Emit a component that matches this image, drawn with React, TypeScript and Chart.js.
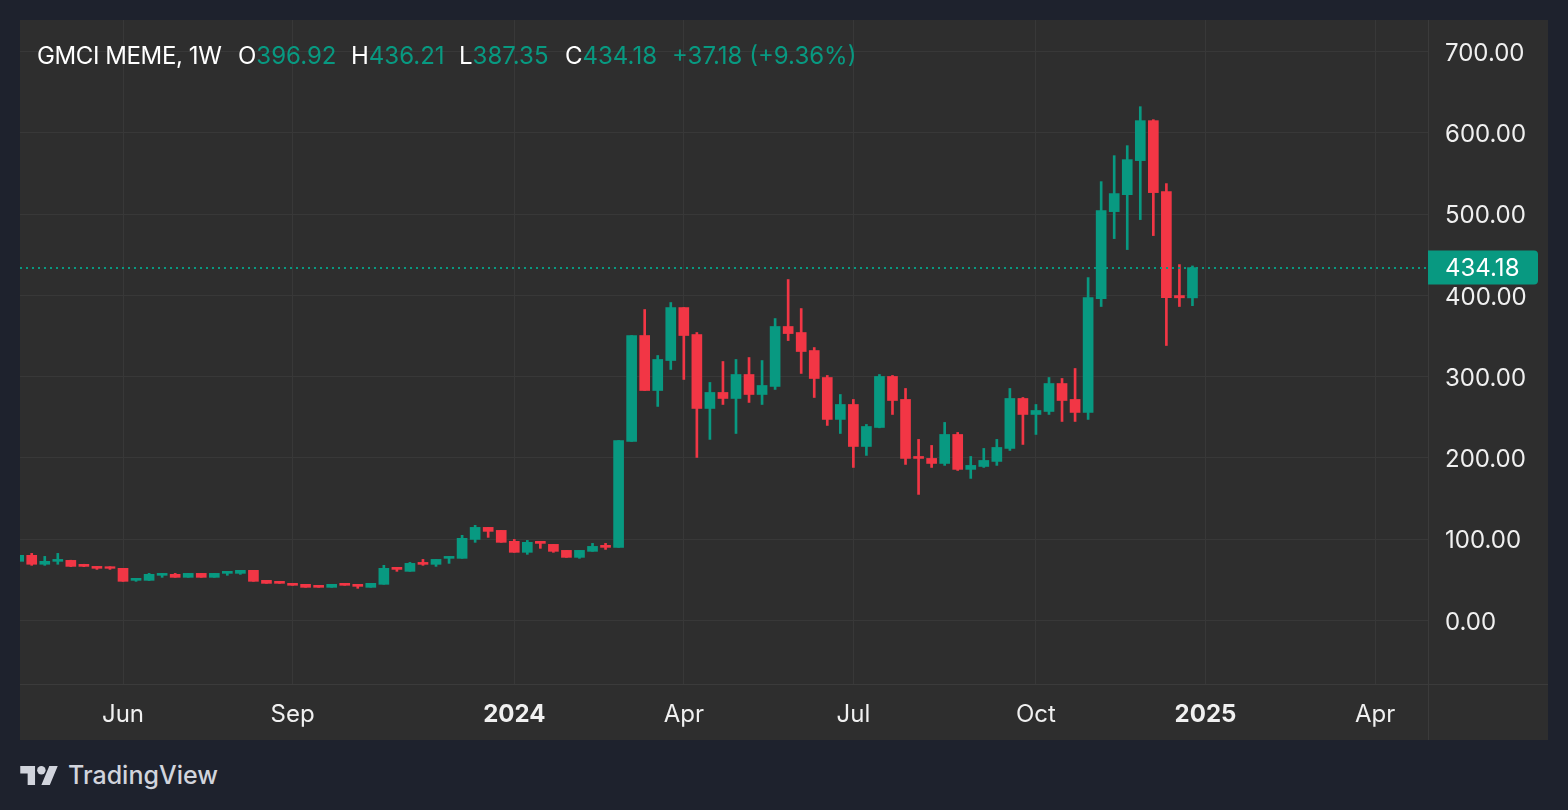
import React, { useEffect, useRef } from "react";
import { Chart, registerables } from "chart.js";

Chart.register(...registerables);

// Weekly candles, first candle = week of 2023-04-10
const opens = [
  72.6, 80, 69, 72.6, 73.8, 68.9, 66.4, 66, 64, 49.2,
  49.2, 55.4, 56.6, 52.9, 57.8, 52.9, 57.8, 57.8, 61.5, 49.2,
  48, 45.5, 44.3, 43.1, 40.6, 45.5, 44.3, 40.6, 44.3, 65.2,
  60.3, 71.3, 68.9, 76.3, 76.3, 99.6, 114.4, 110.7, 97.2, 83.7,
  97.2, 93.5, 86.1, 77.5, 84.9, 92.3, 89.8, 220.2, 350.6, 282.9,
  319.8, 385, 351.8, 260.8, 280.5, 273.1, 302.6, 278, 287.9, 361.7,
  354.3, 332.1, 298.9, 247.3, 265.7, 214, 237.4, 300.2, 271.9, 201.7,
  199.3, 193.1, 228.8, 185.8, 189.4, 195.6, 211.6, 273.1, 253.4, 257.1,
  291.5, 271.9, 255.9, 396.1, 503.1, 524, 565.9, 615.1, 527.7, 399.8,
  396.92,
];
const highs = [
  81, 82.4, 78.7, 82.4, 74, 69, 66.4, 66, 64, 51.7,
  57.8, 57.8, 57.8, 57.8, 57.8, 57.8, 60.3, 61.5, 61.5, 49.2,
  48, 45.5, 44.3, 43.1, 44.3, 45.5, 44.3, 45.5, 67.7, 65.2,
  71.3, 75, 75, 78.7, 104.6, 116.9, 114.4, 110.7, 99.6, 98.4,
  97.2, 93.5, 86.1, 86.1, 94.7, 94.7, 221.4, 350.6, 382.6, 326,
  391.2, 385, 354.3, 292.8, 318.6, 321.1, 323.5, 319.8, 371.5, 419.5,
  383.8, 335.8, 301.4, 278, 271.9, 241.1, 302.6, 301.4, 285.4, 222.7,
  215.3, 243.6, 231.3, 201.7, 211.6, 222.7, 285.4, 274.3, 265.7, 298.9,
  297.7, 310, 421.9, 540, 572, 584.3, 632.3, 616.3, 537.6, 437.9,
  436.21,
];
const lows = [
  71, 67.7, 67.7, 69, 66, 66, 62.7, 62.7, 48, 48,
  49, 52.9, 52.9, 52.9, 52.9, 52.9, 55.4, 56.6, 48, 45.5,
  45.5, 43.1, 40.6, 40.6, 40.6, 43.1, 39.4, 40.6, 44.3, 60.3,
  60.3, 67.7, 66.4, 70.1, 76.3, 96, 102.1, 96, 83.7, 81.2,
  88.6, 83.7, 77.5, 76.3, 84.9, 87.3, 89.8, 220.2, 282.9, 263.3,
  308.8, 296.5, 200.5, 222.7, 265.7, 230, 268.2, 265.7, 284.2, 344.4,
  303.9, 274.3, 239.9, 230, 188.2, 203, 237, 253.4, 191.9, 155,
  188.2, 190.7, 184.5, 174.7, 188.2, 190.7, 209.1, 216.5, 228.8, 253.4,
  244.8, 244.8, 247.3, 386.3, 469.9, 456.4, 493.3, 473.6, 338.3, 386.3,
  387.35,
];
const closes = [
  80, 69, 72.6, 75, 66.4, 66.4, 64, 64, 48, 51.7,
  56.6, 57.8, 52.9, 57.8, 52.9, 57.8, 60.3, 61.5, 48, 45.5,
  45.5, 43.1, 40.6, 40.6, 44.3, 43.1, 41.8, 45.5, 64, 62.7,
  70.1, 68.9, 75, 78.7, 100.9, 114.4, 109.5, 96, 83.7, 96,
  94.7, 84.9, 77.5, 86.1, 91, 89.8, 221.4, 350.6, 282.9, 321.1,
  385, 350.6, 260.8, 280.5, 273.1, 302.6, 278, 289.1, 361.7, 353,
  330.9, 297.7, 247.3, 265.7, 214, 238.6, 300.2, 270.6, 199.3, 199.3,
  193.1, 228.8, 185.8, 190.7, 196.8, 212.8, 273.1, 253.4, 258.3, 291.5,
  270.6, 255.9, 397.3, 504.4, 525.3, 567.1, 615.1, 526.5, 397.3, 397.0,
  434.18,
];

// Time axis: candle index of the first week of each labelled period
const tickIndices = [8, 21, 38, 51, 64, 78, 91, 104];
const tickLabels = ["Jun", "Sep", "2024", "Apr", "Jul", "Oct", "2025", "Apr"];
const yearLabels = ["2024", "2025"];
const priceTicks = [0, 100, 200, 300, 400, 500, 600, 700];

const symbolLabel = "GMCI MEME, 1W";
const openLabel = "396.92";
const highLabel = "436.21";
const lowLabel = "387.35";
const closeLabel = "434.18";
const changeLabel = "+37.18 (+9.36%)";
const lastPrice = 434.18;

const UP = "#089981";
const DOWN = "#f23645";
const GRID = "#383838";
const SEP = "#3b3b3b";
const TEXT = "#f0f0f0";
const FONT = "Inter, 'Noto Sans', sans-serif";

export default function App() {
  const canvasRef = useRef<HTMLCanvasElement | null>(null);

  useEffect(() => {
    const canvas = canvasRef.current;
    if (!canvas) return;
    const colors = opens.map((o, i) => (closes[i] >= o ? UP : DOWN));

    const overlay = {
      id: "tvOverlay",
      afterDatasetsDraw(chart: any) {
        const { ctx, chartArea, scales } = chart;
        const y = Math.round(scales.y.getPixelForValue(lastPrice));
        ctx.save();
        ctx.strokeStyle = UP;
        ctx.lineWidth = 2;
        ctx.setLineDash([2, 4]);
        ctx.beginPath();
        ctx.moveTo(chartArea.left, y);
        ctx.lineTo(chartArea.right, y);
        ctx.stroke();
        ctx.restore();
      },
      afterDraw(chart: any) {
        const { ctx, chartArea, scales, width, height } = chart;
        ctx.save();
        ctx.strokeStyle = SEP;
        ctx.lineWidth = 1;
        ctx.beginPath();
        ctx.moveTo(chartArea.right + 0.5, 0);
        ctx.lineTo(chartArea.right + 0.5, height);
        ctx.moveTo(0, chartArea.bottom + 0.5);
        ctx.lineTo(width, chartArea.bottom + 0.5);
        ctx.stroke();

        // last price label
        const y = scales.y.getPixelForValue(lastPrice);
        const x0 = chartArea.right;
        const w = 110;
        const h = 34;
        const r = 4;
        ctx.fillStyle = UP;
        ctx.beginPath();
        ctx.moveTo(x0, y - h / 2);
        ctx.lineTo(x0 + w - r, y - h / 2);
        ctx.quadraticCurveTo(x0 + w, y - h / 2, x0 + w, y - h / 2 + r);
        ctx.lineTo(x0 + w, y + h / 2 - r);
        ctx.quadraticCurveTo(x0 + w, y + h / 2, x0 + w - r, y + h / 2);
        ctx.lineTo(x0, y + h / 2);
        ctx.closePath();
        ctx.fill();
        ctx.fillStyle = "#ffffff";
        ctx.font = `24px ${FONT}`;
        ctx.textAlign = "left";
        ctx.textBaseline = "middle";
        ctx.fillText(lastPrice.toFixed(2), x0 + 17, y + 1);
        ctx.restore();
      },
    };

    const chart = new Chart(canvas, {
      type: "bar",
      data: {
        datasets: [
          {
            label: "body",
            data: opens.map((o, i) => ({ x: i, y: [o, closes[i]] })) as any,
            backgroundColor: colors,
            borderWidth: 0,
            barThickness: 10,
            grouped: false,
          } as any,
          {
            label: "wick",
            data: opens.map((_, i) => ({ x: i, y: [lows[i], highs[i]] })) as any,
            backgroundColor: colors,
            borderWidth: 0,
            barThickness: 2,
            grouped: false,
          } as any,
        ],
      },
      options: {
        responsive: false,
        animation: false,
        devicePixelRatio: 1,
        layout: { padding: 0, autoPadding: false },
        plugins: {
          legend: { display: false },
          tooltip: { enabled: false },
          title: { display: false },
        },
        scales: {
          x: {
            type: "linear",
            position: "bottom",
            min: 0.102,
            max: 108.06,
            offset: false,
            afterFit: (s: any) => {
              s.height = 56;
              s.paddingLeft = 0;
              s.paddingRight = 0;
            },
            afterBuildTicks: (s: any) => {
              s.ticks = tickIndices.map((v) => ({ value: v }));
            },
            ticks: {
              autoSkip: false,
              maxRotation: 0,
              padding: 16,
              color: TEXT,
              callback: (_v: any, idx: number) => tickLabels[idx],
              font: (ctx: any) => {
                const lbl = ctx.tick ? ctx.tick.label : "";
                return {
                  family: FONT,
                  size: 24,
                  weight: yearLabels.includes(lbl) ? "bold" : "normal",
                };
              },
            },
            grid: { color: GRID, drawTicks: false, lineWidth: 1, offset: false },
            border: { display: false },
          } as any,
          y: {
            type: "linear",
            position: "right",
            min: -78.4,
            max: 739.0,
            afterFit: (s: any) => {
              s.width = 120;
              s.paddingTop = 0;
              s.paddingBottom = 0;
            },
            afterBuildTicks: (s: any) => {
              s.ticks = priceTicks.map((v) => ({ value: v }));
            },
            ticks: {
              crossAlign: "near",
              padding: 17,
              labelOffset: 2,
              color: TEXT,
              font: { family: FONT, size: 24 },
              callback: (v: any) => Number(v).toFixed(2),
            },
            grid: { color: GRID, drawTicks: false, lineWidth: 1 },
            border: { display: false },
          } as any,
        },
      },
      plugins: [overlay],
    });
    return () => chart.destroy();
  }, []);

  const hdr: React.CSSProperties = {
    position: "absolute",
    top: 40,
    fontSize: 24,
    lineHeight: "32px",
    fontFamily: FONT,
    whiteSpace: "nowrap",
    color: "#ffffff",
  };

  return (
    <div
      style={{
        position: "fixed",
        left: 0,
        top: 0,
        width: 1568,
        height: 810,
        background: "#1e222d",
        overflow: "hidden",
        fontFamily: FONT,
      }}
    >
      <canvas
        ref={canvasRef}
        width={1528}
        height={720}
        style={{
          position: "absolute",
          left: 20,
          top: 20,
          width: 1528,
          height: 720,
          background: "#2e2e2e",
        }}
      />
      <div style={{ ...hdr, left: 37, letterSpacing: "-0.4px" }}>{symbolLabel}</div>
      <div style={{ ...hdr, left: 238 }}>
        O<span style={{ color: UP }}>{openLabel}</span>
      </div>
      <div style={{ ...hdr, left: 351 }}>
        H<span style={{ color: UP }}>{highLabel}</span>
      </div>
      <div style={{ ...hdr, left: 459 }}>
        L<span style={{ color: UP }}>{lowLabel}</span>
      </div>
      <div style={{ ...hdr, left: 565 }}>
        C<span style={{ color: UP }}>{closeLabel}</span>
      </div>
      <div style={{ ...hdr, left: 672, color: UP }}>{changeLabel}</div>

      <div
        style={{
          position: "absolute",
          left: 20,
          top: 759,
          height: 32,
          display: "flex",
          alignItems: "center",
          color: "#d1d4dc",
        }}
      >
        <svg width={38} height={19} viewBox="0 4 35.5 18" style={{ display: "block" }}>
          <path d="M14 22H7V11H0V4h14v18zM28 22h-8l7.5-18h8L28 22z" fill="#d1d4dc" />
          <circle cx="20" cy="8" r="4" fill="#d1d4dc" />
        </svg>
        <span
          style={{
            marginLeft: 10,
            fontSize: 25,
            fontWeight: 500,
            lineHeight: "32px",
            fontFamily: FONT,
          }}
        >
          TradingView
        </span>
      </div>
    </div>
  );
}
